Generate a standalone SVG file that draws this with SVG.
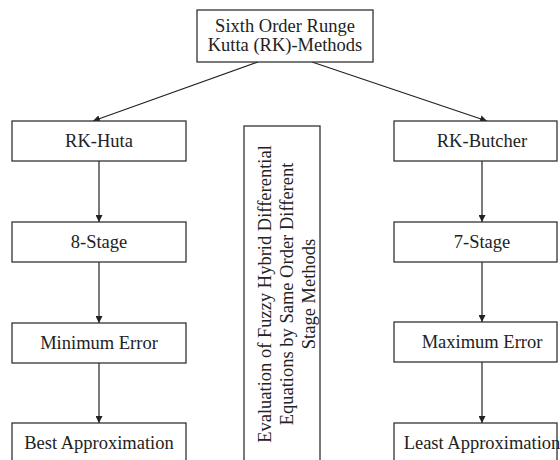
<svg xmlns="http://www.w3.org/2000/svg" width="560" height="460" viewBox="0 0 560 460">
<defs>
<style>
.box{fill:#fff;stroke:#333;stroke-width:1.3}
.t{font-family:"Liberation Serif","Times New Roman",serif;font-size:18.5px;fill:#222;text-anchor:middle}
.c{stroke:#222;stroke-width:1.2;fill:none}
</style>
<marker id="ah" viewBox="0 0 10 10" refX="10" refY="5" markerWidth="7" markerHeight="7" markerUnits="userSpaceOnUse" orient="auto">
<path d="M0,0 L10,5 L0,10 z" fill="#222"/>
</marker>
</defs>
<rect width="560" height="460" fill="#fff"/>
<g id="connectors">
<line class="c" x1="258" y1="62" x2="93" y2="121" marker-end="url(#ah)"/>
<line class="c" x1="312" y1="62" x2="487" y2="121" marker-end="url(#ah)"/>
<line class="c" x1="99" y1="161" x2="99" y2="222" marker-end="url(#ah)"/>
<line class="c" x1="99" y1="262" x2="99" y2="323" marker-end="url(#ah)"/>
<line class="c" x1="99" y1="363" x2="99" y2="423" marker-end="url(#ah)"/>
<line class="c" x1="482" y1="161" x2="482" y2="222" marker-end="url(#ah)"/>
<line class="c" x1="482" y1="262" x2="482" y2="322" marker-end="url(#ah)"/>
<line class="c" x1="482" y1="362" x2="482" y2="423" marker-end="url(#ah)"/>
</g>
<g id="root">
<rect class="box" x="197" y="10" width="176" height="52"/>
<text class="t" x="285" y="32">Sixth Order Runge</text>
<text class="t" x="285" y="51">Kutta (RK)-Methods</text>
</g>
<g id="rk-huta">
<rect class="box" x="12" y="121" width="174" height="40"/>
<text class="t" x="99" y="147">RK-Huta</text>
</g>
<g id="stage8">
<rect class="box" x="12" y="222" width="174" height="40"/>
<text class="t" x="99" y="248">8-Stage</text>
</g>
<g id="min-error">
<rect class="box" x="12" y="323" width="174" height="40"/>
<text class="t" x="99" y="349">Minimum Error</text>
</g>
<g id="best-approx">
<rect class="box" x="12" y="423" width="174" height="45"/>
<text class="t" x="99" y="449">Best Approximation</text>
</g>
<g id="rk-butcher">
<rect class="box" x="394" y="121" width="163" height="40"/>
<text class="t" x="482" y="147">RK-Butcher</text>
</g>
<g id="stage7">
<rect class="box" x="394" y="222" width="163" height="40"/>
<text class="t" x="482" y="248">7-Stage</text>
</g>
<g id="max-error">
<rect class="box" x="394" y="322" width="163" height="40"/>
<text class="t" x="482" y="348">Maximum Error</text>
</g>
<g id="least-approx">
<rect class="box" x="394" y="423" width="163" height="45"/>
<text class="t" x="482" y="449">Least Approximation</text>
</g>
<g id="evaluation">
<rect class="box" x="244" y="126" width="76" height="342"/>
<g transform="translate(282,294) rotate(-90)">
<text class="t" x="0" y="-11">Evaluation of Fuzzy Hybrid Differential</text>
<text class="t" x="0" y="11">Equations by Same Order Different</text>
<text class="t" x="0" y="33">Stage Methods</text>
</g>
</g>
</svg>
